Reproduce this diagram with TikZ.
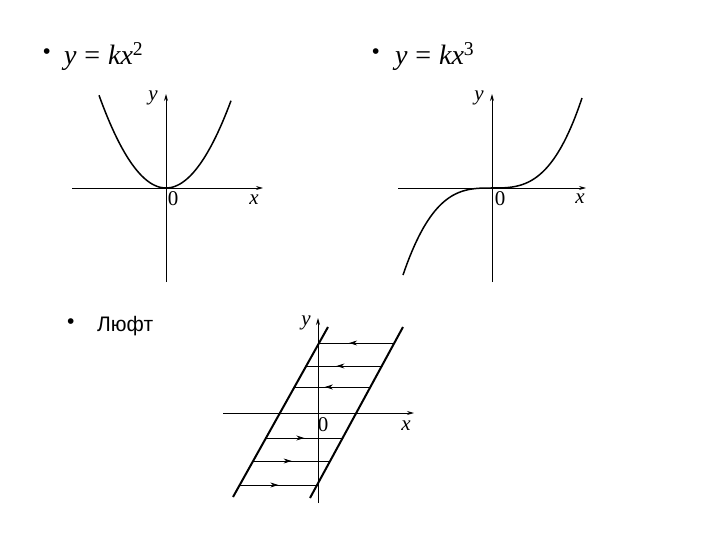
\documentclass[tikz,border=0pt]{standalone}
\usepackage{fontspec}
\setmainfont{Liberation Serif}
\newfontfamily\arl{Liberation Sans}
\usetikzlibrary{arrows.meta,decorations.markings}
\begin{document}
\begin{tikzpicture}[x=1pt,y=-1pt,
  axis/.style={line width=0.9pt,-{Stealth[length=7pt,width=4pt]}},
  curve/.style={line width=1.5pt},
  slant/.style={line width=2pt},
  hline/.style={line width=0.8pt},
  lbl/.style={inner sep=0pt,font=\fontsize{21}{21}\selectfont\itshape},
  zero/.style={inner sep=0pt,font=\fontsize{21}{21}\selectfont},
  bul/.style={inner sep=0pt,anchor=west,font=\arl\fontsize{21}{21}\selectfont},
  eq/.style={inner sep=0pt,anchor=west,font=\fontsize{28}{28}\selectfont},
  midl/.style={postaction={decorate},decoration={markings,mark=at position 0.6 with {\arrow{Stealth[length=8pt,width=5pt]}}}},
  midr/.style={postaction={decorate},decoration={markings,mark=at position 0.5 with {\arrow{Stealth[length=8pt,width=5pt]}}}}]
\useasboundingbox (0,0) rectangle (720,540);
% bullet texts
\node[bul] (b1) at (43,54) {\textbullet};
\node[eq] (t1) at (64,57) {\textit{y}\hspace{0.28em}=\hspace{0.28em}\textit{kx}\textsuperscript{2}};
\node[bul] (b2) at (372,54) {\textbullet};
\node[eq] (t2) at (395,57) {\textit{y}\hspace{0.28em}=\hspace{0.28em}\textit{kx}\textsuperscript{3}};
\node[bul] (b3) at (67,324) {\textbullet};
\node[bul,font=\arl\fontsize{21}{21}\selectfont] (t3) at (97,326) {Люфт};
% graph 1
\coordinate (a1l) at (72,188); \coordinate (a1r) at (263,188);
\coordinate (a1b) at (166,282); \coordinate (a1t) at (166,94);
\draw[axis] (a1l) -- (a1r);
\draw[axis] (a1b) -- (a1t);
\draw[curve] plot[domain=-67:65,samples=60] ({166+\x},{188-90*(\x/66)^2});
\node[lbl] (y1) at (153,98) {y};
\node[zero] (o1) at (173,199) {0};
\node[lbl] (x1) at (254,200) {x};
% graph 2
\coordinate (a2l) at (398,188); \coordinate (a2r) at (586,188);
\coordinate (a2b) at (492,282); \coordinate (a2t) at (492,94);
\draw[axis] (a2l) -- (a2r);
\draw[axis] (a2b) -- (a2t);
\draw[curve] plot[domain=-89:90,samples=80] ({492+\x},{188-90*(\x/90)^3});
\node[lbl] (y2) at (479,98) {y};
\node[zero] (o2) at (500,199) {0};
\node[lbl] (x2) at (580,199) {x};
% graph 3
\coordinate (a3l) at (223,413); \coordinate (a3r) at (414,413);
\coordinate (a3b) at (318,503); \coordinate (a3t) at (318,318);
\draw[axis] (a3l) -- (a3r);
\draw[axis] (a3b) -- (a3t);
\coordinate (L1) at (233,497); \coordinate (L2) at (328,327);
\coordinate (R1) at (310,498); \coordinate (R2) at (403,327);
\draw[slant] (L1) -- (L2);
\draw[slant] (R1) -- (R2);
\foreach \yy/\st in {343/midl,366/midl,387/midl} {
  \draw[hline,\st] ({310+(498-\yy)*93/171},\yy) -- ({233+(497-\yy)*95/170},\yy);
}
\foreach \yy in {438,461,485} {
  \draw[hline,midr] ({233+(497-\yy)*95/170},\yy) -- ({310+(498-\yy)*93/171},\yy);
}
\node[lbl] (y3) at (306,323) {y};
\node[zero] (o3) at (323,425) {0};
\node[lbl] (x3) at (406,426) {x};
\end{tikzpicture}
\end{document}
